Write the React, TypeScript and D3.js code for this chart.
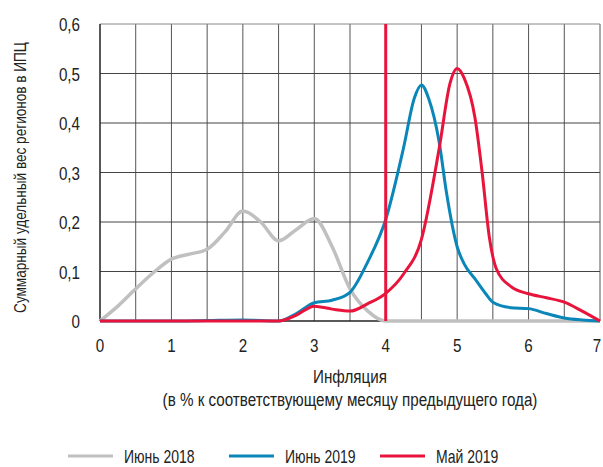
import * as d3 from "d3";
import React, { useEffect, useRef } from "react";

// inflation, % y/y (x axis)
const xGray = [0, 0.25, 0.5, 0.75, 1, 1.25, 1.5, 1.75, 2, 2.25, 2.5, 2.75, 3, 3.25, 3.5, 3.75, 4, 4.5, 5, 6, 7];
const june2018 = [0, 0.03, 0.065, 0.098, 0.125, 0.135, 0.145, 0.18, 0.222, 0.2, 0.162, 0.185, 0.207, 0.15, 0.065, 0.02, 0, 0, 0, 0, 0];

const xBlue = [0, 1, 1.5, 2, 2.5, 2.75, 3, 3.25, 3.5, 3.75, 4, 4.25, 4.4, 4.5, 4.6, 4.75, 4.85, 5, 5.1, 5.25, 5.4, 5.5, 5.75, 6, 6.25, 6.5, 6.75, 7];
const june2019 = [0, 0, 0.001, 0.002, 0, 0.015, 0.037, 0.042, 0.058, 0.12, 0.205, 0.35, 0.45, 0.477, 0.45, 0.36, 0.26, 0.15, 0.115, 0.085, 0.055, 0.038, 0.027, 0.025, 0.015, 0.006, 0.002, 0];

const xRed = [0, 1, 2, 2.5, 2.75, 3, 3.25, 3.5, 3.75, 4, 4.25, 4.5, 4.75, 4.9, 5, 5.1, 5.25, 5.35, 5.45, 5.55, 5.75, 6, 6.25, 6.5, 6.75, 7];
const may2019 = [0, 0, 0, 0, 0.012, 0.03, 0.024, 0.02, 0.035, 0.056, 0.095, 0.165, 0.35, 0.48, 0.51, 0.49, 0.41, 0.3, 0.17, 0.105, 0.07, 0.055, 0.047, 0.038, 0.02, 0];

const xTicks = [0, 1, 2, 3, 4, 5, 6, 7];
const yTicks = [0, 0.1, 0.2, 0.3, 0.4, 0.5, 0.6];
const threshold = 4;

const seriesNames = ["Июнь 2018", "Июнь 2019", "Май 2019"];
const colors = ["#c0c0c0", "#0a87b8", "#e8143c"];

const FONT = "'Liberation Sans', Arial, sans-serif";
const SX = 0.8; // condensed look

export default function App() {
  const ref = useRef<SVGSVGElement | null>(null);

  useEffect(() => {
    const svg = d3.select(ref.current);
    svg.selectAll("*").remove();

    const width = 603;
    const height = 467;
    const margin = { top: 24, right: 3, bottom: 146, left: 100 };
    const w = width - margin.left - margin.right;
    const h = height - margin.top - margin.bottom;

    const x = d3.scaleLinear().domain([0, 7]).range([0, w]);
    const y = d3.scaleLinear().domain([0, 0.6]).range([h, 0]);

    const label = (parent: any, tx: number, ty: number, txt: string, size: number, anchor = "start", rot = 0) =>
      parent
        .append("text")
        .attr("transform", `translate(${tx},${ty}) rotate(${rot}) scale(${SX},1)`)
        .attr("text-anchor", anchor)
        .attr("font-family", FONT)
        .attr("font-size", size)
        .attr("fill", "#222")
        .text(txt);

    const g = svg.append("g").attr("transform", `translate(${margin.left},${margin.top})`);

    // grid
    g.selectAll("line.vg")
      .data(d3.range(0.5, 7.01, 0.5))
      .enter()
      .append("line")
      .attr("x1", (d) => x(d))
      .attr("x2", (d) => x(d))
      .attr("y1", 0)
      .attr("y2", h)
      .attr("stroke", "#555")
      .attr("stroke-width", 1);
    g.selectAll("line.hg")
      .data(yTicks.slice(1))
      .enter()
      .append("line")
      .attr("x1", 0)
      .attr("x2", w)
      .attr("y1", (d) => y(d))
      .attr("y2", (d) => y(d))
      .attr("stroke", (d) => (d === 0.6 ? "#888" : "#444"))
      .attr("stroke-width", 1);

    // axes lines
    g.append("line").attr("x1", 0).attr("x2", 0).attr("y1", 0).attr("y2", h).attr("stroke", "#222").attr("stroke-width", 1.5);
    g.append("line").attr("x1", 0).attr("x2", w).attr("y1", h).attr("y2", h).attr("stroke", "#222").attr("stroke-width", 1.5);

    // tick labels
    yTicks.forEach((d) =>
      label(g, -20, y(d) + 7, d === 0 ? "0" : d3.format(".1f")(d).replace(".", ","), 19, "end")
    );
    xTicks.forEach((d) => label(g, Math.min(x(d), w - 3), h + 31, String(d), 19, "middle"));

    // titles
    label(g, x(3.5), h + 62, "Инфляция", 19, "middle");
    label(g, x(3.5), h + 85, "(в % к соответствующему месяцу предыдущего года)", 19, "middle");
    label(svg, 26, margin.top + h / 2 + 5, "Суммарный удельный вес регионов в ИПЦ", 17, "middle", -90);

    // curves
    const line = d3
      .line<[number, number]>()
      .x((d) => x(d[0]))
      .y((d) => y(d[1]))
      .curve(d3.curveMonotoneX);
    const series: [number[], number[]][] = [
      [xGray, june2018],
      [xBlue, june2019],
      [xRed, may2019],
    ];
    series.forEach(([xs, ys], i) => {
      g.append("path")
        .datum(xs.map((v, k) => [v, ys[k]] as [number, number]))
        .attr("d", line)
        .attr("fill", "none")
        .attr("stroke", colors[i])
        .attr("stroke-width", i === 0 ? 3.5 : 3)
        .attr("stroke-linejoin", "round");
    });

    // threshold line
    g.append("line")
      .attr("x1", x(threshold))
      .attr("x2", x(threshold))
      .attr("y1", 0)
      .attr("y2", h)
      .attr("stroke", colors[2])
      .attr("stroke-width", 3);

    // legend
    const legendX = [68, 229, 380];
    const legend = svg.append("g").attr("transform", "translate(0,456)");
    seriesNames.forEach((name, i) => {
      legend
        .append("line")
        .attr("x1", legendX[i])
        .attr("x2", legendX[i] + 45)
        .attr("y1", 0)
        .attr("y2", 0)
        .attr("stroke", colors[i])
        .attr("stroke-width", 3);
      label(legend, legendX[i] + 56, 7, name, 17.5);
    });
  }, []);

  return (
    <svg
      ref={ref}
      width={603}
      height={467}
      style={{ position: "absolute", left: 0, top: 0, display: "block", background: "#fff" }}
    />
  );
}
